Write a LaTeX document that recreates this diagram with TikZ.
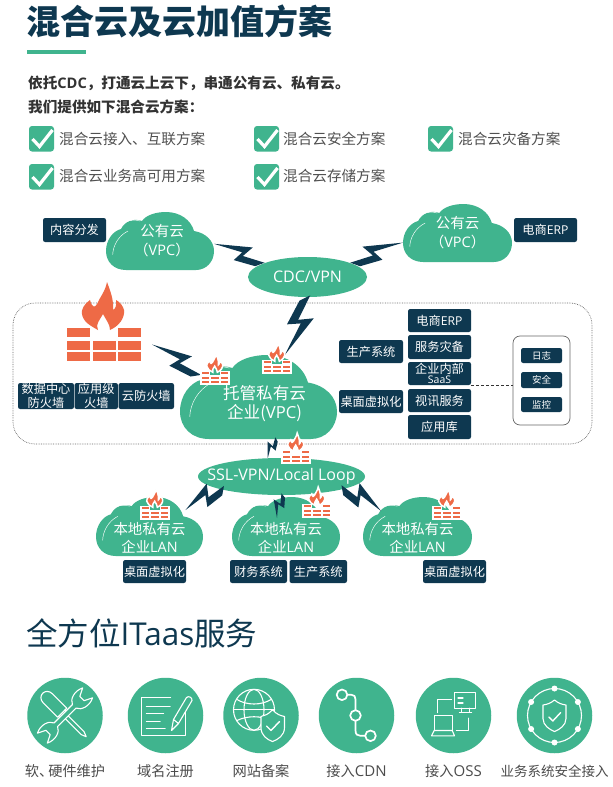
\documentclass[tikz,border=0pt]{standalone}
\usepackage{fontspec}
\setmainfont{Noto Sans CJK SC}
\newfontfamily\lat{Open Sans}
\newfontfamily\blackf{Noto Sans CJK SC Black}
\usetikzlibrary{calc,shapes.geometric}
\definecolor{gr}{RGB}{64,180,142}
\definecolor{navy}{RGB}{14,56,80}
\definecolor{fire}{RGB}{238,106,70}
\definecolor{txt}{RGB}{80,80,80}
\tikzset{
  tagbox/.style={fill=navy,rounded corners=2.2pt,text=white,inner sep=0pt,outer sep=0pt,align=center,font=\fontsize{12.2}{13.5}\selectfont},
  cloudtext/.style={inner sep=0pt,outer sep=0pt,text=white,align=center},
  ovalbox/.style={ellipse,fill=gr,inner sep=0pt,outer sep=0pt,text=white,font=\lat\fontsize{16}{18}\selectfont},
  ovaltext/.style={inner sep=0pt,text=white,font=\lat\fontsize{16}{18}\selectfont},
  itemtext/.style={anchor=west,inner sep=0pt,text=txt,font=\fontsize{14.6}{16}\selectfont},
  leadtext/.style={anchor=west,inner sep=0pt,text=black!80,font=\bfseries\fontsize{14.6}{16}\selectfont},
  disc/.style={circle,fill=gr,minimum size=75.5pt,inner sep=0pt,outer sep=0pt},
  disclabel/.style={inner sep=0pt,text=black!70,font=\fontsize{14.2}{15}\selectfont},
  ic/.style={draw=white,line width=1.1pt,line join=round,line cap=round},
  icfill/.style={ic,fill=gr}
}
\newcommand\tagn[7][]{\node[tagbox,#1,minimum width={(#5-#3)*1pt},minimum height={(#6-#4)*1pt}] (#2) at ({(#3+#5)/2},{(#4+#6)/2}) {#7};}
\newcommand\cloudn[7][]{%
  \begin{scope}[shift={(#3,#4)},xscale={(#5-#3)/108},yscale={(#6-#4)/58}]
    \fill[gr] (20,58) .. controls (8,58) and (0,50) .. (0,39)
      .. controls (0,28) and (7,19) .. (15,17)
      .. controls (19,9) and (28,6) .. (36,9)
      .. controls (40,3) and (50,0) .. (60,0)
      .. controls (74,0) and (85,8) .. (88,19)
      .. controls (100,21) and (108,29) .. (108,39)
      .. controls (108,50) and (100,58) .. (90,58) -- cycle;
    \draw[white,line width=.45pt] (6.7,42.7) .. controls (7,34) and (12,24) .. (22,19);
    \draw[white,line width=.45pt] (10.7,17.7) .. controls (15,11) and (24,6) .. (34,9);
  \end{scope}
  \node[cloudtext,#1,minimum width={(#5-#3)*1pt},minimum height={(#6-#4)*1pt}] (#2) at ({(#3+#5)/2},{(#4+#6)/2}) {#7};}
\newcommand\flamepath{(40,0) .. controls (38,10) and (33,15) .. (30,22) .. controls (28,26) and (25,26) .. (23,18) .. controls (17,22) and (14,28) .. (15,32) .. controls (16,40) and (24,44) .. (31,48) .. controls (28,42) and (33,38) .. (36,32) .. controls (39,38) and (43,42) .. (43,48) .. controls (52,44) and (58,36) .. (57,28) .. controls (56,24) and (53,20) .. (49,18) .. controls (50,24) and (48,27) .. (46,28) .. controls (47,18) and (43,8) .. (40,0) -- cycle}
\newcommand\firewall[4][]{%
  \begin{scope}[shift={(#2,#3)},scale=#4]
    \foreach \a/\b/\c/\d in {0/46/23/55,51/46/74/55,0/58.5/23/67.5,25.5/58.5/48.5/67.5,51/58.5/74/67.5,0/70/23/79,25.5/70/48.5/79,51/70/74/79}{
      \path[fill=fire,#1] (\a,\b) rectangle (\c,\d);}
    \path[fill=fire,#1] \flamepath;
  \end{scope}}
\newcommand\bolt[3][1]{%
  \path #2; \pgfgetlastxy{\ax}{\ay}%
  \path #3; \pgfgetlastxy{\bx}{\by}%
  \pgfmathsetmacro\bang{atan2(\by-\ay,\bx-\ax)}%
  \pgfmathsetmacro\blen{veclen(\bx-\ax,\by-\ay)}%
  \pgfmathsetmacro\bfl{-#1*\blen}%
  \begin{scope}[shift={(\ax,\ay)},x=\blen pt,y=\bfl pt,rotate=\bang]
    \fill[navy] (0,0) -- (.72,-.24) -- (.61,-.01) -- (1.05,-.06) -- (.91,.075) -- (.48,.135) -- (.57,-.07) -- cycle;
  \end{scope}}
\newcommand\checkbox[2]{%
  \begin{scope}[shift={(#1,#2)}]
    \fill[gr,rounded corners=3pt] (0,0) rectangle (25,25.5);
    \draw[white,line width=3.2pt] (3.5,13) -- (10.5,20.5) -- (23.5,4);
  \end{scope}}
\begin{document}
\begin{tikzpicture}[x=1pt,y=-1pt]
\useasboundingbox (0,0) rectangle (613,787);
\fill[white] (0,0) rectangle (613,787);
% heading
\node[anchor=west,inner sep=0pt,text=navy,font=\blackf\fontsize{34}{36}\selectfont] (title) at (26,21) {混合云及云加值方案};
\fill[gr] (27,50) rectangle (86,54);
\node[leadtext] (l1) at (28,83) {依托{\lat CDC}，打通云上云下，串通公有云、私有云。};
\node[leadtext] (l2) at (28,107) {我们提供如下混合云方案：};
\checkbox{29}{126}\checkbox{254}{126}\checkbox{428}{126}
\checkbox{29}{164}\checkbox{254}{164}
\node[itemtext] (i1) at (59,139) {混合云接入、互联方案};
\node[itemtext] (i2) at (283,139) {混合云安全方案};
\node[itemtext] (i3) at (458,139) {混合云灾备方案};
\node[itemtext] (i4) at (59,176) {混合云业务高可用方案};
\node[itemtext] (i5) at (283,176) {混合云存储方案};
% dotted zone
\draw[black!60,densely dotted,line width=.7pt,rounded corners=22pt] (13,303) rectangle (592,444);
% clouds
\cloudn[font=\fontsize{14.5}{19}\selectfont]{pub1}{106}{212}{214}{270}{\\[-8pt]\hspace*{4pt}公有云\\\hspace*{4pt}（{\lat VPC}）}
\cloudn[font=\fontsize{14.5}{19}\selectfont]{pub2}{403}{204}{512}{262}{\\[-8pt]公有云\\（{\lat VPC}）}
\cloudn[font=\fontsize{16.6}{19}\selectfont]{host}{180}{355}{337}{439}{\\[9pt]\hspace*{12pt}托管私有云\\\hspace*{12pt}企业({\lat VPC})}
\cloudn[font=\fontsize{14.4}{18}\selectfont]{lan1}{96}{497}{203}{556}{\\[16pt]本地私有云\\企业{\lat LAN}}
\cloudn[font=\fontsize{14.4}{18}\selectfont]{lan2}{232}{497}{340}{556}{\\[16pt]本地私有云\\企业{\lat LAN}}
\cloudn[font=\fontsize{14.4}{18}\selectfont]{lan3}{363}{497}{472}{556}{\\[16pt]本地私有云\\企业{\lat LAN}}
\node[ovalbox,minimum width=119pt,minimum height=40pt] (cdc) at (307.5,277) {CDC/VPN};
\node[ovalbox,minimum width=167pt,minimum height=37pt,label={[ovaltext]center:SSL-VPN/Local Loop}] (ssl) at (281.5,476.5) {};
% big firewall
\node[inner sep=0pt,outer sep=0pt,minimum width=74pt,minimum height=33pt] (fw) at (104,344.5) {};
\firewall{67}{282}{1}
% bolts
\bolt{(pub1.-3)}{(cdc.165)}
\bolt[-1]{(pub2.-170)}{(cdc.15)}
\bolt[-1]{(host.58)}{(cdc.-95)}
\bolt{($(fw.east)+(11,0)$)}{($(host.west)+(17,-21)$)}
\bolt[1.4]{(ssl.127)}{($(host.south)+(18,0)$)}
\bolt[1.3]{($(lan1.north)+(36,13)$)}{(ssl.193)}
\bolt[1.4]{($(lan2.north)+(-9,21)$)}{(ssl.-85)}
\bolt[-1.3]{($(lan3.north)+(-36.5,14)$)}{(ssl.-12)}
% small firewalls
\firewall[draw=white,line width=1.5pt]{201}{354}{.38}
\firewall[draw=white,line width=1.5pt]{263}{343}{.38}
\firewall[draw=white,line width=1.5pt]{282}{433}{.38}
\firewall[draw=white,line width=1.5pt]{141}{489}{.38}
\firewall[draw=white,line width=1.5pt]{303}{487}{.38}
\firewall[draw=white,line width=1.5pt]{433}{489}{.38}
% tags
\tagn{tcontent}{43}{218}{106}{242}{内容分发}
\tagn{terp}{514}{218}{577}{242}{电商{\lat ERP}}
\tagn{tdc}{18}{383}{74}{409}{数据中心\\防火墙}
\tagn{tapp}{74.5}{383}{118}{409}{应用级\\火墙}
\tagn{tcloud}{118.5}{383}{174}{409}{云防火墙}
\tagn{tprod}{339}{340}{403}{363}{生产系统}
\tagn{tvdi}{339}{390}{403}{413}{桌面虚拟化}
\tagn{cerp}{408}{309}{471}{332}{电商{\lat ERP}}
\tagn{cdr}{408}{335}{471}{359}{服务灾备}
\tagn[font=\fontsize{12.2}{10.5}\selectfont]{saas}{408}{362}{471}{385}{企业内部\\{\lat\fontsize{10.5}{8.5}\selectfont SaaS}}
\tagn{cvid}{408}{389}{471}{412}{视讯服务}
\tagn{clib}{408}{415}{471}{439}{应用库}
\node[draw=black!60,fill=white,rounded corners=7pt,line width=.7pt,minimum width=57pt,minimum height=89pt,inner sep=0pt,outer sep=0pt] (logbox) at (541.5,380.5) {};
\draw[black!80,densely dashed,line width=.6pt] (saas.south east) -- (saas.south east -| logbox.west);
\tagn[font=\fontsize{9.5}{11}\selectfont]{tlog}{521}{348}{562}{363}{日志}
\tagn[font=\fontsize{9.5}{11}\selectfont]{tsec}{521}{372}{562}{388}{安全}
\tagn[font=\fontsize{9.5}{11}\selectfont]{tmon}{521}{397}{562}{412}{监控}
\tagn{lt1}{123}{560}{186}{583}{桌面虚拟化}
\tagn{lt2}{230}{560}{287}{583}{财务系统}
\tagn{lt3}{289.5}{560}{347}{583}{生产系统}
\tagn{lt4}{423}{560}{486}{583}{桌面虚拟化}
% services
\node[anchor=west,inner sep=0pt,text=navy,font=\fontsize{31.5}{34}\selectfont] (svc) at (26,633) {全方位{\lat ITaas}服务};
\node[disc] (c1) at (65,715.5) {};
\node[disc] (c2) at (165.5,715.5) {};
\node[disc] (c3) at (261,715.5) {};
\node[disc] (c4) at (356.5,715.5) {};
\node[disc] (c5) at (453.5,715.5) {};
\node[disc] (c6) at (554.5,715.5) {};
\node[disclabel] (d1) at (65,771.5) {软、\hspace{-5pt}硬件维护};
\node[disclabel] (d2) at (165.5,771.5) {域名注册};
\node[disclabel] (d3) at (261,771.5) {网站备案};
\node[disclabel] (d4) at (356.5,771.5) {接入{\lat\fontsize{15}{15}\selectfont CDN}};
\node[disclabel] (d5) at (453.5,771.5) {接入{\lat\fontsize{15}{15}\selectfont OSS}};
\node[disclabel,font=\fontsize{13.5}{15}\selectfont] (d6) at (554.5,771.5) {业务系统安全接入};
% icon 1: tools
\begin{scope}[shift={(c1.center)},rotate=-45]
  \draw[ic] (-4,-6.5) -- (-24,-6.5) .. controls (-34,-6.5) and (-34,6.5) .. (-24,6.5) -- (-4,6.5) -- cycle;
  \draw[ic] (-4,-4) -- (2,-4) -- (2,4) -- (-4,4);
  \draw[ic] (2,-2) -- (25,-2) -- (30,0) -- (25,2) -- (2,2);
\end{scope}
\begin{scope}[shift={(c1.center)},rotate=45]
  \draw[icfill] (13,2.5) .. controls (15,8) and (24,11) .. (32,7) -- (24,3) -- (24,-3) -- (32,-7) .. controls (24,-11) and (15,-8) .. (13,-2.5) -- (-13,-2.5) .. controls (-15,-8) and (-24,-11) .. (-32,-7) -- (-24,-3) -- (-24,3) -- (-32,7) .. controls (-24,11) and (-15,8) .. (-13,2.5) -- cycle;
\end{scope}
% icon 2: form
\begin{scope}[shift={(c2.center)}]
  \draw[ic] (5,-18) -- (-23.7,-18) -- (-23.7,20.3) -- (19.7,20.3) -- (19.7,-3);
  \draw[ic] (-19,-9) -- (4.7,-9) (-19,-2.3) -- (-2,-2.3) (-19,6) -- (-5.3,6) (-19,13.3) -- (-.3,13.3);
  \draw[ic] (6,15) -- (8,4) -- (21,-18) .. controls (23,-20) and (27,-18) .. (26.5,-15) -- (13,8) -- cycle (8,4) -- (13,8);
\end{scope}
% icon 3: globe
\begin{scope}[shift={(c3.center)}]
  \draw[ic] (-7,-5.7) circle (20.5);
  \draw[ic] (-7,-5.7) ellipse (10 and 20.5);
  \draw[ic] (-27.5,-5.7) -- (13.5,-5.7);
  \draw[ic] (-24,-16) .. controls (-14,-10) and (0,-10) .. (10,-16);
  \draw[ic] (-24,5) .. controls (-14,0) and (0,0) .. (10,5);
  \draw[icfill] (11.5,-5.7) .. controls (7,-1) and (4,0) .. (0,1) -- (0,12) .. controls (0,20) and (6,24) .. (11.5,26) .. controls (17,24) and (23.5,20) .. (23.5,12) -- (23.5,1) .. controls (19,0) and (16,-1) .. (11.5,-5.7) -- cycle;
  \draw[ic,line width=1.4pt] (5.5,10.5) -- (10,15) -- (18.5,6);
\end{scope}
% icon 4: path
\begin{scope}[shift={(c4.center)}]
  \draw[ic,line width=1.7pt] (-14.5,-20.7) circle (5.3) (-1,0) circle (5.3) (14,20.3) circle (5.3);
  \draw[ic,line width=1.7pt] (-9.2,-20.7) -- (-5,-20.7) .. controls (-2,-20.7) and (-1,-19) .. (-1,-16) -- (-1,-5.3);
  \draw[ic,line width=1.7pt] (-1,5.3) -- (-1,15) .. controls (-1,19) and (1,20.3) .. (4,20.3) -- (8.7,20.3);
\end{scope}
% icon 5: devices
\begin{scope}[shift={(c5.center)}]
  \draw[ic] (1.3,-23.3) rectangle (22.3,-7.3);
  \draw[ic] (8,-7.3) -- (8,-3) -- (16,-3) -- (16,-7.3) (6,-3) -- (18,-3);
  \draw[ic] (4.5,-17.5) -- (9.5,-17.5) (4.5,-12.5) -- (9.5,-12.5);
  \draw[ic] (-19.3,15) -- (-19.3,.3) -- (-1.3,.3) -- (-1.3,15);
  \draw[ic] (-19.3,15) -- (-22,20.3) -- (1,20.3) -- (-1.3,15) -- cycle;
  \draw[ic] (-16,-3) -- (-16,-16.3) -- (-2,-16.3);
  \draw[ic] (3,15) -- (15.3,15) -- (15.3,2.7);
\end{scope}
% icon 6: shield ring
\begin{scope}[shift={(c6.center)}]
  \draw[ic] (0,0) circle (27);
  \foreach \ang in {90,30,-30,-90,150,210}{\fill[white] (\ang:27pt) circle (3);}
  \draw[ic] (0,-15.5) .. controls (-4,-12) and (-8,-11) .. (-11.5,-10.5) -- (-11.5,3) .. controls (-11.5,10) and (-5,14) .. (0,16) .. controls (5,14) and (11.5,10) .. (11.5,3) -- (11.5,-10.5) .. controls (8,-11) and (4,-12) .. (0,-15.5) -- cycle;
  \draw[ic,line width=1.4pt] (-5.7,1.5) -- (-1.7,5.5) -- (6.2,-3);
\end{scope}
\end{tikzpicture}
\end{document}
